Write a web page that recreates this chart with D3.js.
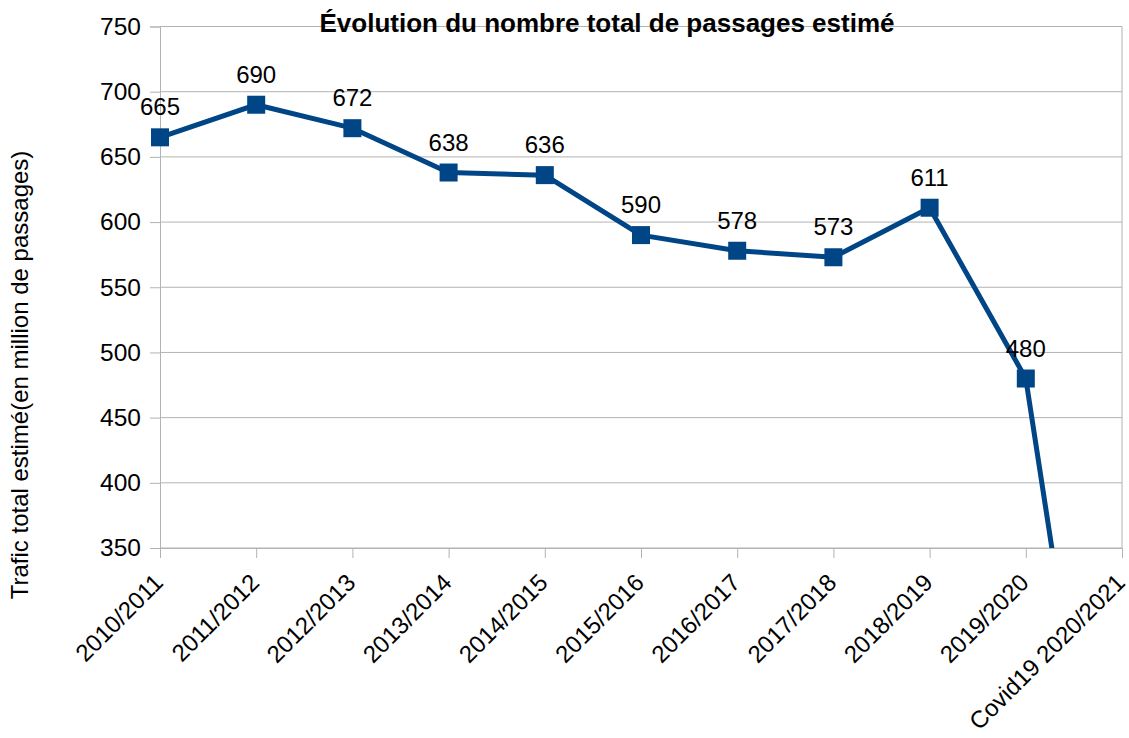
<!DOCTYPE html>
<html>
<head>
<meta charset="utf-8">
<script src="https://d3js.org/d3.v7.min.js"></script>
<style>
  body { margin: 0; background: #fff; }
  svg { font-family: "Liberation Sans", Arial, sans-serif; }
</style>
</head>
<body>
<script>
// Data
const seasons = ["2010/2011", "2011/2012", "2012/2013", "2013/2014", "2014/2015",
  "2015/2016", "2016/2017", "2017/2018", "2018/2019", "2019/2020", "Covid19 2020/2021"];
const passages = [665, 690, 672, 638, 636, 590, 578, 573, 611, 480, 0];
const yTicks = [350, 400, 450, 500, 550, 600, 650, 700, 750];

const W = 1129, H = 738;
const margin = { top: 26.5, right: 7, bottom: 190, left: 160 };
const width = W - margin.left - margin.right;
const height = 548 - margin.top;

const svg = d3.select("body").append("svg")
  .attr("width", W)
  .attr("height", H);

const g = svg.append("g")
  .attr("transform", `translate(${margin.left},${margin.top})`);

const x = d3.scalePoint().domain(seasons).range([0, width]).padding(0);
const y = d3.scaleLinear().domain([350, 750]).range([height, 0]);

// grid lines
g.append("g")
  .selectAll("line")
  .data(yTicks)
  .join("line")
  .attr("x1", 0).attr("x2", width)
  .attr("y1", d => y(d)).attr("y2", d => y(d))
  .attr("stroke", "#b3b3b3").attr("stroke-width", 1);

// right border
g.append("line")
  .attr("x1", width).attr("x2", width)
  .attr("y1", 0).attr("y2", height)
  .attr("stroke", "#b3b3b3");

// y axis
const yAxis = g.append("g")
  .call(d3.axisLeft(y).tickValues(yTicks).tickSize(10).tickPadding(9));
yAxis.select(".domain").attr("stroke", "#b3b3b3");
yAxis.selectAll(".tick line").attr("stroke", "#b3b3b3");
yAxis.selectAll("text")
  .attr("font-size", 24.5)
  .attr("font-family", "Liberation Sans, Arial, sans-serif")
  .attr("fill", "#000");

// x axis
const xAxis = g.append("g")
  .attr("transform", `translate(0,${height})`)
  .call(d3.axisBottom(x).tickSize(10));
xAxis.select(".domain").attr("stroke", "#b3b3b3");
xAxis.selectAll(".tick line").attr("stroke", "#b3b3b3");
xAxis.selectAll("text")
  .attr("font-size", 24)
  .attr("font-family", "Liberation Sans, Arial, sans-serif")
  .attr("fill", "#000")
  .attr("text-anchor", "end")
  .attr("x", 0).attr("y", 0).attr("dy", 0)
  .attr("transform", "translate(4,36) rotate(-45)");

// clip to plot area
svg.append("defs").append("clipPath").attr("id", "plotClip")
  .append("rect").attr("x", 0).attr("y", 0).attr("width", width).attr("height", height);

const plot = g.append("g").attr("clip-path", "url(#plotClip)");

const line = d3.line()
  .x((d, i) => x(seasons[i]))
  .y(d => y(d));

plot.append("path")
  .datum(passages)
  .attr("fill", "none")
  .attr("stroke", "#004586")
  .attr("stroke-width", 5)
  .attr("stroke-linejoin", "round")
  .attr("d", line);

const ms = 18;
g.selectAll(".marker")
  .data(passages.filter(d => d >= 350))
  .join("rect")
  .attr("class", "marker")
  .attr("x", (d, i) => x(seasons[i]) - ms / 2)
  .attr("y", d => y(d) - ms / 2)
  .attr("width", ms).attr("height", ms)
  .attr("fill", "#004586");

g.selectAll(".value")
  .data(passages.filter(d => d >= 350))
  .join("text")
  .attr("class", "value")
  .attr("x", (d, i) => x(seasons[i]))
  .attr("y", d => y(d) - 22)
  .attr("text-anchor", "middle")
  .attr("font-size", 24)
  .attr("fill", "#000")
  .text(d => d);

// title
svg.append("text")
  .attr("x", 607)
  .attr("y", 32)
  .attr("text-anchor", "middle")
  .attr("font-size", 26)
  .attr("font-weight", "bold")
  .text("Évolution du nombre total de passages estimé");

// y axis title
svg.append("text")
  .attr("transform", "translate(28,375) rotate(-90)")
  .attr("text-anchor", "middle")
  .attr("font-size", 24)
  .text("Trafic total estimé(en million de passages)");
</script>
</body>
</html>
